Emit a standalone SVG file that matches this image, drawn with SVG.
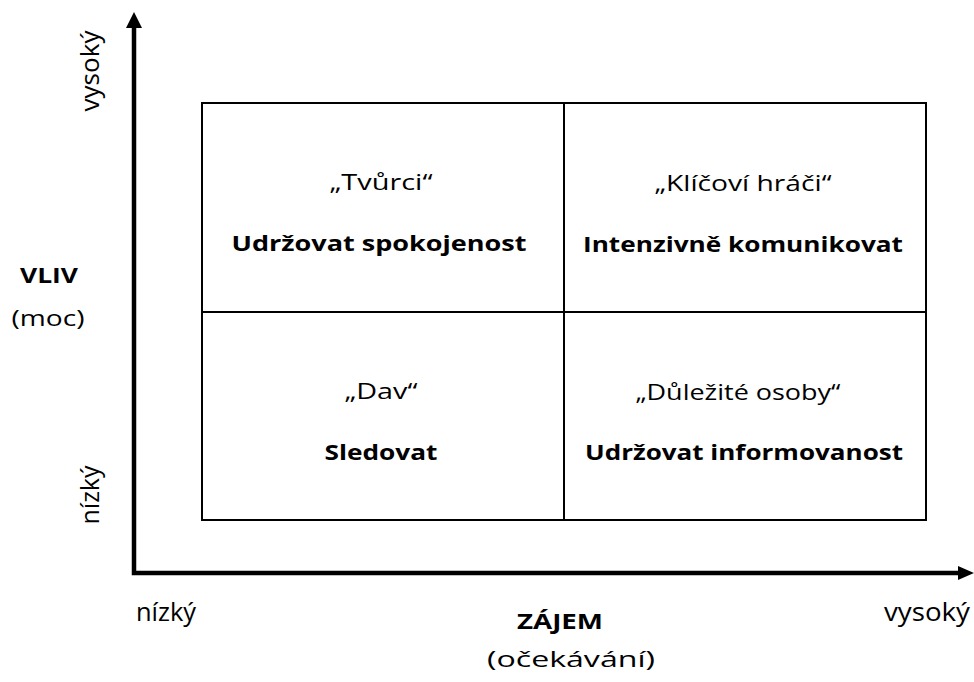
<svg xmlns="http://www.w3.org/2000/svg" width="974" height="682" viewBox="0 0 974 682">
  <style>
    text { font-family: "Open Sans", "Liberation Sans", sans-serif; fill: #000; }
    .lbl { font-size: 21px; text-anchor: middle; }
    .act { font-size: 21px; font-weight: bold; text-anchor: middle; }
    .axis { stroke: #000; stroke-width: 4.5; fill: none; }
    .grid { stroke: #000; stroke-width: 2; fill: none; }
    .ax { font-size: 22px; text-anchor: middle; }
    .axv { font-size: 26px; text-anchor: middle; }
    .axb { font-size: 22px; font-weight: bold; text-anchor: middle; }
  </style>

  <!-- axes with arrowheads -->
  <g id="connectors">
    <polyline class="axis" points="134,28 134,573 960,573"/>
    <path d="M126,28 L134,12 L142,28 Z" fill="#000"/>
    <path d="M958,566 L974,573 L958,580 Z" fill="#000"/>
  </g>

  <!-- quadrant grid -->
  <g id="grid">
    <rect class="grid" x="202" y="103" width="724" height="417"/>
    <line class="grid" x1="564" y1="103" x2="564" y2="520"/>
    <line class="grid" x1="202" y1="312" x2="926" y2="312"/>
  </g>

  <g id="q-tvurci">
    <text class="lbl" x="381" y="190" textLength="103" lengthAdjust="spacingAndGlyphs">„Tvůrci“</text>
    <text class="act" x="379" y="251" textLength="295" lengthAdjust="spacingAndGlyphs">Udržovat spokojenost</text>
  </g>
  <g id="q-klicovi">
    <text class="lbl" x="743" y="191" textLength="177" lengthAdjust="spacingAndGlyphs">„Klíčoví hráči“</text>
    <text class="act" x="743" y="252" textLength="320" lengthAdjust="spacingAndGlyphs">Intenzivně komunikovat</text>
  </g>
  <g id="q-dav">
    <text class="lbl" x="381" y="399" textLength="73" lengthAdjust="spacingAndGlyphs">„Dav“</text>
    <text class="act" x="381" y="460" textLength="113" lengthAdjust="spacingAndGlyphs">Sledovat</text>
  </g>
  <g id="q-dulezite">
    <text class="lbl" x="738" y="400" textLength="205" lengthAdjust="spacingAndGlyphs">„Důležité osoby“</text>
    <text class="act" x="744" y="460" textLength="318" lengthAdjust="spacingAndGlyphs">Udržovat informovanost</text>
  </g>

  <!-- vertical axis labels -->
  <g id="y-labels">
    <text class="axv" transform="translate(99,71) rotate(-90)" textLength="81" lengthAdjust="spacingAndGlyphs">vysoký</text>
    <text class="axv" transform="translate(99,495) rotate(-90)" textLength="59" lengthAdjust="spacingAndGlyphs">nízký</text>
    <text class="axb" x="49" y="283" font-size="24" textLength="58" lengthAdjust="spacingAndGlyphs">VLIV</text>
    <text class="ax" x="48" y="326" font-size="21" textLength="73" lengthAdjust="spacingAndGlyphs">(moc)</text>
  </g>

  <!-- horizontal axis labels -->
  <g id="x-labels">
    <text class="axv" x="166" y="621" textLength="60" lengthAdjust="spacingAndGlyphs">nízký</text>
    <text class="axv" x="927" y="621" textLength="86" lengthAdjust="spacingAndGlyphs">vysoký</text>
    <text class="axb" x="560" y="629" textLength="86" lengthAdjust="spacingAndGlyphs">ZÁJEM</text>
    <text class="ax" x="571" y="667" font-size="21" textLength="168" lengthAdjust="spacingAndGlyphs">(očekávání)</text>
  </g>
</svg>
